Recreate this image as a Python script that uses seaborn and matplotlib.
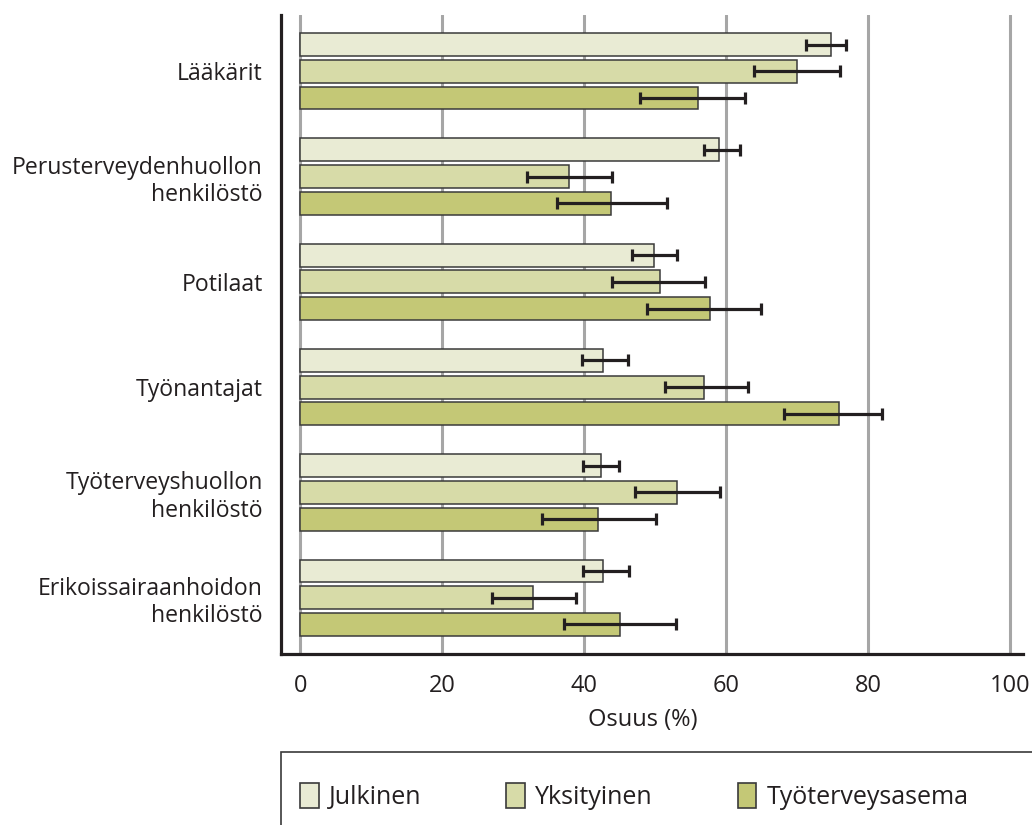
import matplotlib
matplotlib.use("Agg")
import matplotlib.pyplot as plt
from matplotlib.patches import Patch, Rectangle
import seaborn as sns
import pandas as pd

# categories and series
categories = ["Lääkärit", "Perusterveydenhuollon\nhenkilöstö", "Potilaat",
              "Työnantajat", "Työterveyshuollon\nhenkilöstö",
              "Erikoissairaanhoidon\nhenkilöstö"]
series = ["Julkinen", "Yksityinen", "Työterveysasema"]

# share (%) per series, with lower / upper ends of the error bars
julkinen = [74.8, 59.0, 49.8, 42.7, 42.3, 42.7]
julkinen_lo = [71.3, 56.8, 46.7, 39.7, 39.8, 39.8]
julkinen_hi = [76.8, 61.9, 53.0, 46.2, 44.9, 46.3]

yksityinen = [69.9, 37.8, 50.6, 56.8, 53.1, 32.8]
yksityinen_lo = [63.9, 31.9, 43.9, 51.3, 47.2, 27.0]
yksityinen_hi = [76.0, 43.9, 57.0, 63.0, 59.1, 38.8]

tyoterveys = [56.0, 43.8, 57.7, 75.9, 42.0, 45.0]
tyoterveys_lo = [47.8, 36.1, 48.8, 68.2, 34.1, 37.2]
tyoterveys_hi = [62.7, 51.7, 64.9, 82.0, 50.1, 52.9]

xticks = [0, 20, 40, 60, 80, 100]
colors = ["#e9ebd4", "#d7dba8", "#c4c876"]

values = [julkinen, yksityinen, tyoterveys]
lows = [julkinen_lo, yksityinen_lo, tyoterveys_lo]
highs = [julkinen_hi, yksityinen_hi, tyoterveys_hi]

rows = []
for s, vals in zip(series, values):
    for c, v in zip(categories, vals):
        rows.append({"kategoria": c, "sarja": s, "osuus": v})
df = pd.DataFrame(rows)

sns.set_theme(style="white")
plt.rcParams["font.family"] = ["Open Sans", "DejaVu Sans"]
plt.rcParams["text.color"] = "#231f20"
plt.rcParams["axes.labelcolor"] = "#231f20"
plt.rcParams["xtick.color"] = "#a6a6a6"
plt.rcParams["xtick.labelcolor"] = "#231f20"
plt.rcParams["ytick.labelcolor"] = "#231f20"

fig = plt.figure(figsize=(10.32, 8.25), dpi=100)
ax = fig.add_axes([0.2723, 0.2073, 0.7190, 0.7745])

sns.barplot(data=df, y="kategoria", x="osuus", hue="sarja", order=categories,
            hue_order=series, palette=colors, saturation=1, orient="h",
            width=0.76, gap=0.14, edgecolor="#3a3a3a", linewidth=1.1,
            legend=False, ax=ax, zorder=2)

# error bars
bar_conts = list(ax.containers)
for i, cont in enumerate(bar_conts):
    for j, bar in enumerate(cont):
        yc = bar.get_y() + bar.get_height() / 2
        v = values[i][j]
        ax.errorbar(v, yc, xerr=[[v - lows[i][j]], [highs[i][j] - v]],
                    fmt="none", ecolor="#231f20", elinewidth=2.3,
                    capsize=4.6, capthick=2.3, zorder=3)

ax.set_xlim(-2.72, 101.8)
ax.set_ylim(5.535, -0.535)
ax.set_xticks(xticks)
ax.set_xticklabels([str(t) for t in xticks], fontsize=17)
ax.tick_params(axis="x", length=7.5, width=2.2, pad=7, direction="out")
ax.tick_params(axis="y", length=0, pad=13, labelsize=16.6)
for lbl in ax.get_yticklabels():
    lbl.set_linespacing(1.2)
ax.xaxis.grid(True, color="#a6a6a6", linewidth=2.2)
ax.yaxis.grid(False)
ax.set_axisbelow(True)
ax.set_ylabel("")
ax.set_xlabel("Osuus (%)", fontsize=17)
ax.xaxis.set_label_coords(0.487, -0.085)

sns.despine(ax=ax, top=True, right=True)
for side in ["left", "bottom"]:
    ax.spines[side].set_color("#231f20")
    ax.spines[side].set_linewidth(2.3)

# legend box (only top and left edge fall inside the figure)
fig.patches.append(Rectangle((281 / 1032, -0.2), 1.0, 0.2 + 73 / 825,
                             transform=fig.transFigure, fill=False,
                             edgecolor="#3a3a3a", linewidth=1.2))
handles = [Patch(facecolor=c, edgecolor="#3a3a3a", linewidth=1.2) for c in colors]
fig.legend(handles, series, loc="center left", bbox_to_anchor=(300 / 1032, 0.035),
           ncol=3, frameon=False, fontsize=18, borderpad=0, borderaxespad=0,
           handlelength=0.75, handleheight=1.15, handletextpad=0.4,
           columnspacing=3.4)

fig.savefig("out.png", dpi=100)
